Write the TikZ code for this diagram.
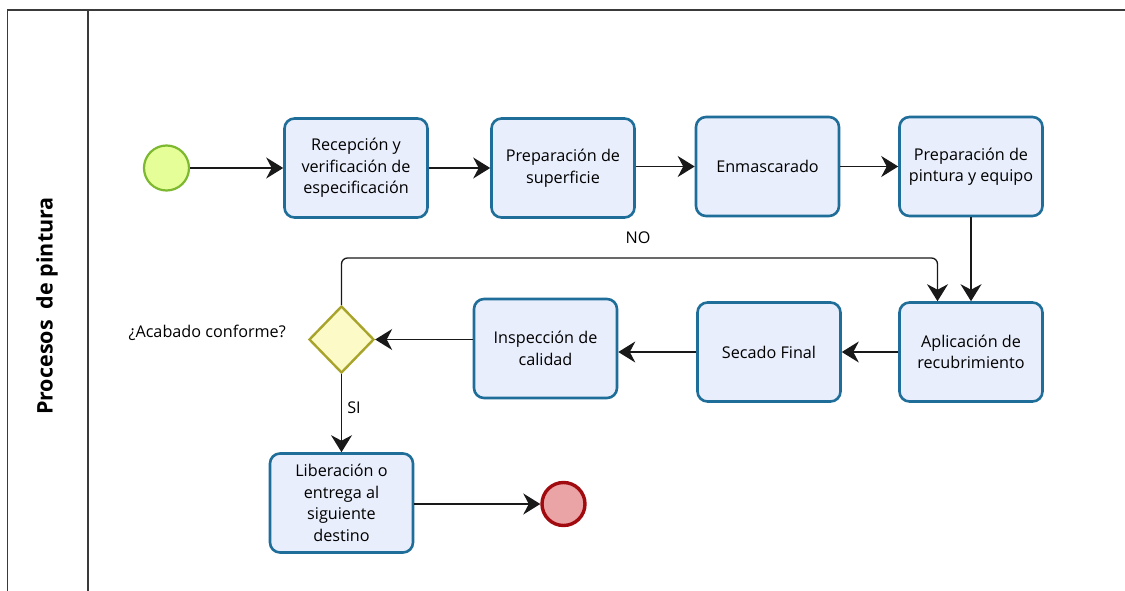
\documentclass[tikz,border=0pt]{standalone}
\usepackage{fontspec}
\setmainfont{Open Sans}
\usetikzlibrary{shapes.geometric,arrows.meta}

\definecolor{taskline}{HTML}{1E6E99}
\definecolor{taskfill}{HTML}{E9EEFC}
\definecolor{startline}{HTML}{7DB92E}
\definecolor{startfill}{HTML}{E5FE98}
\definecolor{endline}{HTML}{A10A0E}
\definecolor{endfill}{HTML}{EBA4A6}
\definecolor{gateline}{HTML}{A8A42B}
\definecolor{gatefill}{HTML}{FCFBC8}
\definecolor{poolline}{HTML}{3A3A3A}

\tikzset{
  task/.style={draw=taskline, fill=taskfill, line width=2.6pt, rounded corners=10pt,
    minimum width=143pt, minimum height=99pt, align=center,
    font=\fontsize{16.2}{21.5}\selectfont, inner sep=2pt},
  startev/.style={circle, draw=startline, fill=startfill, line width=2.2pt, minimum size=45pt, inner sep=0pt},
  endev/.style={circle, draw=endline, fill=endfill, line width=3.4pt, minimum size=43pt, inner sep=0pt},
  gateway/.style={diamond, draw=gateline, fill=gatefill, line width=2.4pt, minimum width=65pt, minimum height=67pt, inner sep=0pt, aspect=1},
  flow/.style={draw=black!90, line width=1.3pt, -{Stealth[length=17pt, width=21pt, inset=5.5pt]}},
  lbl/.style={font=\fontsize{16.2}{19}\selectfont, inner sep=0pt},
  pool/.style={draw=poolline, line width=1.6pt}
}

\begin{document}
\begin{tikzpicture}[x=1pt, y=-1pt]
  % canvas
  \useasboundingbox (0,0) rectangle (1125,591);
  \fill[white] (0,0) rectangle (1125,591);

  % pool and lane header
  \coordinate (poolTL) at (7.5,10);
  \coordinate (poolTR) at (1125,10);
  \coordinate (poolBL) at (7.5,591);
  \coordinate (laneT) at (88,10);
  \coordinate (laneB) at (88,591);
  \draw[pool] (poolBL) -- (poolTL) -- (poolTR);
  \draw[pool, line width=1.3pt] (laneT) -- (laneB);
  \node[rotate=90, font=\fontsize{21.5}{24}\bfseries] (lanetitle) at (47,306) {Procesos\ \ de pintura};

  % events
  \node[startev] (start) at (166.5,168) {};
  \node[endev] (finish) at (563.5,504) {};

  % tasks, top row
  \node[task] (recep) at (356,168) {Recepción y\\verificación de\\especificación};
  \node[task] (prepsup) at (563,168) {Preparación de\\superficie};
  \node[task] (enmasc) at (767.5,166.5) {Enmascarado};
  \node[task] (preppint) at (971,166.5) {Preparación de\\pintura y equipo};

  % tasks, second row
  \node[task] (aplic) at (971,352) {Aplicación de\\recubrimiento};
  \node[task] (secado) at (769,352) {Secado Final};
  \node[task] (inspec) at (545.5,348.5) {Inspección de\\calidad};

  % gateway and release
  \node[gateway] (gate) at (341.5,339.5) {};
  \node[lbl, anchor=east] (question) at (286,333) {¿Acabado conforme?};
  \node[task] (liber) at (341.5,503) {Liberación o\\entrega al\\siguiente\\destino};

  % sequence flows
  \draw[flow] (start) -- (recep);
  \draw[flow] (recep) -- (prepsup);
  \draw[flow] (prepsup.east |- enmasc) -- (enmasc);
  \draw[flow] (enmasc) -- (preppint);
  \draw[flow] (preppint) -- (aplic);
  \draw[flow] (aplic) -- (secado);
  \draw[flow] (secado.west) -- (secado.west -| inspec.east);
  \draw[flow] (inspec.west |- gate) -- (gate.east);
  \coordinate (loopL) at (341.5,258);
  \coordinate (loopR) at (937.5,258);
  \draw[flow, rounded corners=6pt] (gate.north) -- (loopL) -- (loopR) -- (loopR |- aplic.north);
  \node[lbl] (nolbl) at (638,238) {NO};
  \draw[flow] (gate.south) -- (liber.north);
  \node[lbl] (silbl) at (354,408) {SI};
  \draw[flow] (liber.east |- finish) -- (finish);
\end{tikzpicture}
\end{document}
